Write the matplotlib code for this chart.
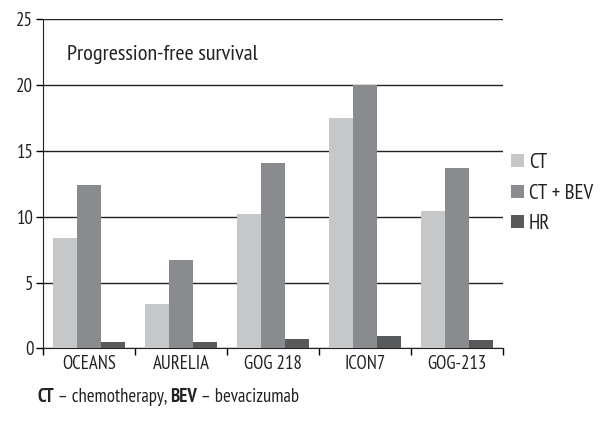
import matplotlib
matplotlib.use('Agg')
from matplotlib import pyplot as plt
import numpy as np

plt.rcParams['font.family'] = ['PT Sans Narrow', 'Fira Sans Condensed',
                               'Open Sans Condensed', 'Asap Condensed', 'DejaVu Sans']

# Data
trials = ['OCEANS', 'AURELIA', 'GOG 218', 'ICON7', 'GOG-213']
ct = [8.4, 3.4, 10.2, 17.5, 10.4]
ct_bev = [12.4, 6.7, 14.1, 20.0, 13.7]
hr = [0.48, 0.48, 0.72, 0.94, 0.64]
series_names = ['CT', 'CT + BEV', 'HR']
colors = ['#c6c7c9', '#8a8b8f', '#58595b']

my_dpi = 100
fig = plt.figure(figsize=(604 / my_dpi, 424 / my_dpi), dpi=my_dpi)
ax = fig.add_axes([43 / 604, 1 - 348.3 / 424, 460 / 604, 329 / 424])

x = np.arange(len(trials))
w = 0.26
for i, (vals, name, c) in enumerate(zip([ct, ct_bev, hr], series_names, colors)):
    ax.bar(x + (i - 1) * w, vals, w, color=c, label=name, zorder=3)

ax.set_xlim(-0.5, len(trials) - 0.5)
ax.set_ylim(0, 25)
ax.set_yticks([0, 5, 10, 15, 20, 25])
ax.yaxis.grid(True, color='#222222', linewidth=1.0, zorder=0)
ax.set_axisbelow(True)

# category labels centred, tick marks on the boundaries
ax.set_xticks(x)
ax.set_xticklabels(trials, fontsize=13.5, color='#222222')
ax.tick_params(axis='x', which='major', length=0, pad=5)
ax.set_xticks(np.arange(-0.5, len(trials)), minor=True)
ax.tick_params(axis='x', which='minor', length=5, width=1, direction='out')
ax.tick_params(axis='y', length=5, width=1, direction='out', labelsize=13.5,
               labelcolor='#222222', pad=2)

for s in ['top', 'right']:
    ax.spines[s].set_visible(False)
ax.spines['left'].set_color('#222222')
ax.spines['bottom'].set_color('#222222')

ax.text(0.052, 0.893, 'Progression-free survival', transform=ax.transAxes,
        fontsize=16, color='#222222', va='center', ha='left')

ax.legend(loc='center left', bbox_to_anchor=(1.0, 0.472), frameon=False,
          fontsize=15, handlelength=0.6, handleheight=0.6, handletextpad=0.25,
          labelspacing=0.55, borderaxespad=0.0, borderpad=0.4,
          labelcolor='#222222')

# caption with bold abbreviations
parts = [('CT', 'bold'), (' \u2013 chemotherapy, ', 'normal'),
         ('BEV', 'bold'), (' \u2013 bevacizumab', 'normal')]
renderer = fig.canvas.get_renderer()
xpos = 37 / 604
for txt, wt in parts:
    t = fig.text(xpos, 1 - 397 / 424, txt, fontsize=13.5, fontweight=wt,
                 color='#222222', va='center', ha='left')
    bb = t.get_window_extent(renderer=renderer)
    xpos += bb.width / fig.bbox.width

plt.savefig('out.png', dpi=my_dpi)
plt.close()
